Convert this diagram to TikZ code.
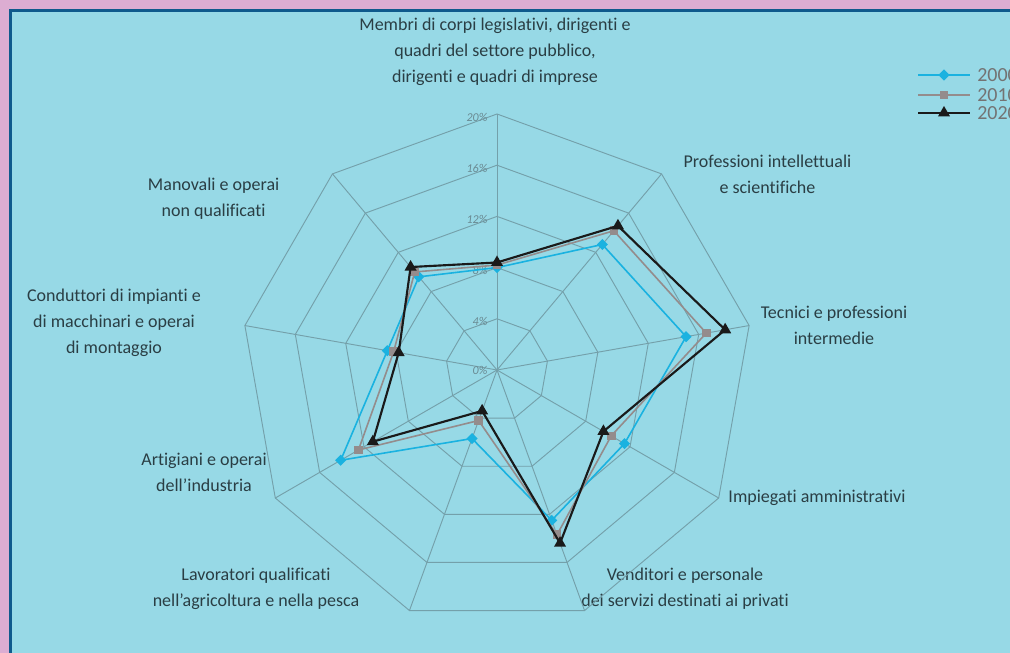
\documentclass[tikz,border=0pt]{standalone}
\usepackage{fontspec}
\setmainfont{Carlito}[Ligatures={TeX,NoCommon}]
\usetikzlibrary{shapes.geometric}

\definecolor{pinkbg}{HTML}{DCADD2}
\definecolor{panel}{HTML}{97D9E6}
\definecolor{framecol}{HTML}{0F5A8C}
\definecolor{gridcol}{HTML}{74A0AA}
\definecolor{labtext}{HTML}{2A3E44}
\definecolor{ticktext}{HTML}{6A8A92}
\definecolor{serAcol}{HTML}{1AB2E0}
\definecolor{serBcol}{HTML}{948C8C}
\definecolor{serCcol}{HTML}{1A1A1A}

\tikzset{
  axlabel/.style={text=labtext,font=\fontsize{13.5}{19.5}\selectfont},
  ticklabel/.style={text=ticktext,font=\fontsize{9}{10}\selectfont\itshape,anchor=east,inner sep=1pt},
  gridline/.style={draw=gridcol,line width=0.7pt},
  serA/.style={draw=serAcol,line width=1.2pt,line join=round},
  serB/.style={draw=serBcol,line width=1.2pt,line join=round},
  serC/.style={draw=serCcol,line width=1.6pt,line join=round},
  mkA/.style={diamond,fill=serAcol,inner sep=0pt,minimum size=8.5pt},
  mkB/.style={rectangle,fill=serBcol,inner sep=0pt,minimum size=6.5pt},
  mkC/.style={regular polygon,regular polygon sides=3,fill=serCcol,inner sep=0pt,minimum size=10.5pt},
  legtext/.style={text=black!55,font=\fontsize{15}{16}\selectfont,anchor=west,inner sep=0pt}
}

\begin{document}
\begin{tikzpicture}[x=0.75pt,y=0.75pt,every text node part/.style={align=center}]
      \useasboundingbox (0,0) rectangle (1010,653);
      \fill[pinkbg] (0,0) rectangle (1010,653);
      \fill[panel] (9,0) rectangle (1010,644);
      \draw[framecol,line width=2.2pt] (10.5,0) -- (10.5,642.5) -- (1010,642.5);

      % axis labels
      \node[axlabel] (lMembri)   at (495,601) {Membri di corpi legislativi, dirigenti e\\quadri del settore pubblico,\\dirigenti e quadri di imprese};
      \node[axlabel,anchor=east,align=right] (lProf) at (856,479) {Professioni intellettuali\\e scientifiche};
      \node[axlabel] (lTecnici)  at (834,328) {Tecnici e professioni\\intermedie};
      \node[axlabel] (lImpieg)   at (817,155) {Impiegati amministrativi};
      \node[axlabel] (lVendit)   at (685,64)  {Venditori e personale\\dei servizi destinati ai privati};
      \node[axlabel] (lLavor)    at (256,64)  {Lavoratori qualificati\\nell'agricoltura e nella pesca};
      \node[axlabel] (lArtig)    at (204,181) {Artigiani e operai\\dell'industria};
      \node[axlabel] (lCondutt)  at (114,330) {Conduttori di impianti e\\di macchinari e operai\\di montaggio};
      \node[axlabel,anchor=east,align=right] (lManov) at (284,454) {Manovali e operai\\non qualificati};

      \begin{scope}[shift={(497,283)}]
        \coordinate (O) at (0,0);

        % grid rings and spokes
        \foreach \r in {51.2,102.4,153.6,204.8,256}
          \draw[gridline] (90:\r) \foreach \k in {1,...,8} { -- ({90-40*\k}:\r) } -- cycle;
        \foreach \k in {0,...,8} {
          \coordinate (v\k) at ({90-40*\k}:256);
          \draw[gridline] (O) -- (v\k);
        }

        % scale
        \node[ticklabel] (t0)  at (-8,0)     {0\%};
        \node[ticklabel] (t4)  at (-8,49)    {4\%};
        \node[ticklabel] (t8)  at (-8,100)   {8\%};
        \node[ticklabel] (t12) at (-8,151)   {12\%};
        \node[ticklabel] (t16) at (-8,202)   {16\%};
        \node[ticklabel] (t20) at (-8,253)   {20\%};

        % 2000
        \foreach \v [count=\k from 0] in {8.0,12.8,15.0,11.5,12.5,5.7,14.1,8.7,9.5}
          \coordinate (a\k) at ({90-40*\k}:{\v*12.8});
        \draw[serA] (a0) -- (a1) -- (a2) -- (a3) -- (a4) -- (a5) -- (a6) -- (a7) -- (a8) -- cycle;
        \foreach \k in {0,...,8} \node[mkA] (ma\k) at (a\k) {};

        % 2010
        \foreach \v [count=\k from 0] in {8.2,14.2,16.6,10.3,13.7,4.2,12.5,8.2,10.0}
          \coordinate (b\k) at ({90-40*\k}:{\v*12.8});
        \draw[serB] (b0) -- (b1) -- (b2) -- (b3) -- (b4) -- (b5) -- (b6) -- (b7) -- (b8) -- cycle;
        \foreach \k in {0,...,8} \node[mkB] (mb\k) at (b\k) {};

        % 2020
        \foreach \v [count=\k from 0] in {8.4,14.7,18.1,9.6,14.4,3.4,11.2,7.8,10.5}
          \coordinate (c\k) at ({90-40*\k}:{\v*12.8});
        \draw[serC] (c0) -- (c1) -- (c2) -- (c3) -- (c4) -- (c5) -- (c6) -- (c7) -- (c8) -- cycle;
        \foreach \k in {0,...,8} \node[mkC] (mc\k) at (c\k) {};
      \end{scope}

      % legend
      \coordinate (gA1) at (918,578); \coordinate (gA2) at (970,578);
      \coordinate (gB1) at (918,558); \coordinate (gB2) at (970,558);
      \coordinate (gC1) at (918,540); \coordinate (gC2) at (970,540);
      \draw[serA] (gA1) -- (gA2);
      \draw[serB] (gB1) -- (gB2);
      \draw[serC] (gC1) -- (gC2);
      \node[mkA] (kA) at (944,578) {};
      \node[mkB] (kB) at (944,558) {};
      \node[mkC] (kC) at (944,540) {};
      \node[legtext] (yA) at (977,578) {2000};
      \node[legtext] (yB) at (977,558) {2010};
      \node[legtext] (yC) at (977,540) {2020};
    \end{tikzpicture}
\end{document}
